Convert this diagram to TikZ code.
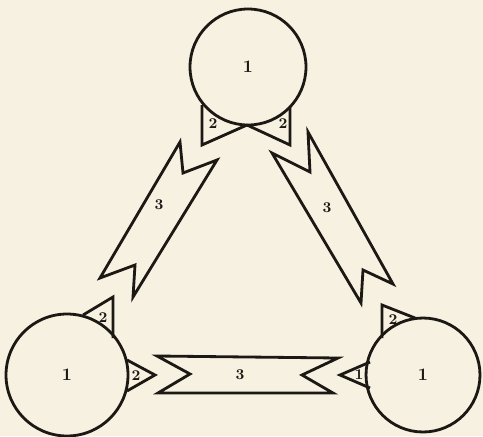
\documentclass[tikz,border=0pt]{standalone}
\usepackage{tikz}
\usepackage{xcolor}
\definecolor{Paper}{RGB}{246,241,224}
\definecolor{Ink}{RGB}{28,24,20}
\tikzset{
  trline/.style={line width=1.6pt, draw=Ink, line join=miter},
  trball/.style={circle, draw=Ink, line width=1.6pt, inner sep=0pt},
  trlab/.style={font=\fontsize{10}{10}\selectfont\bfseries, text=Ink, inner sep=0.5pt},
  trsmall/.style={font=\fontsize{8.5}{9}\selectfont\bfseries, text=Ink, inner sep=0.5pt}
}
\newcommand{\TRribbon}[6]{%
  \draw[trline] #1 -- #2 -- #3 -- #4 -- #5 -- #6 -- cycle;}

\begin{document}
\begin{tikzpicture}[x=0.02cm,y=-0.02cm]
  \fill[Paper] (0,0) rectangle (483,436);
  \useasboundingbox (0,0) rectangle (483,436);
  % circles
  \node[trball, trlab, minimum size=2.32cm] (top) at (248,67) {1};
  \node[trball, trlab, minimum size=2.44cm] (left) at (67,375) {1};
  \node[trball, trlab, minimum size=2.28cm] (right) at (423,375) {1};
  % triangles on the circles
  \draw[trline] (202,105) -- (202,145) -- (247,125);
  \draw[trline] (290,107) -- (290,145) -- (247,125);
  \draw[trline] (83,315) -- (113,297) -- (113,338);
  \draw[trline] (127,360) -- (155,375) -- (127,391);
  \draw[trline] (415,318) -- (382,305) -- (382,338);
  \draw[trline] (370,362) -- (340,375) -- (370,388);
  \node[trsmall] (t2a) at (213,124) {2};
  \node[trsmall] (t2b) at (283,124) {2};
  \node[trsmall] (l2a) at (103,318) {2};
  \node[trsmall] (l2b) at (136,376) {2};
  \node[trsmall] (r2a) at (393,320) {2};
  \node[trsmall] (r2b) at (359,375) {1};
  % notched bands
  \TRribbon{(180,142)}{(183,173)}{(217,160)}{(133,297)}{(135,265)}{(100,278)}
  \TRribbon{(308,132)}{(310,172)}{(272,153)}{(361,303)}{(363,270)}{(393,284)}
  \TRribbon{(157,356)}{(190,374)}{(158,393)}{(333,393)}{(302,375)}{(338,358)}
  \node[trsmall] (b3l) at (159,205) {3};
  \node[trsmall] (b3r) at (327,208) {3};
  \node[trsmall] (b3b) at (240,375) {3};
\end{tikzpicture}
\end{document}
